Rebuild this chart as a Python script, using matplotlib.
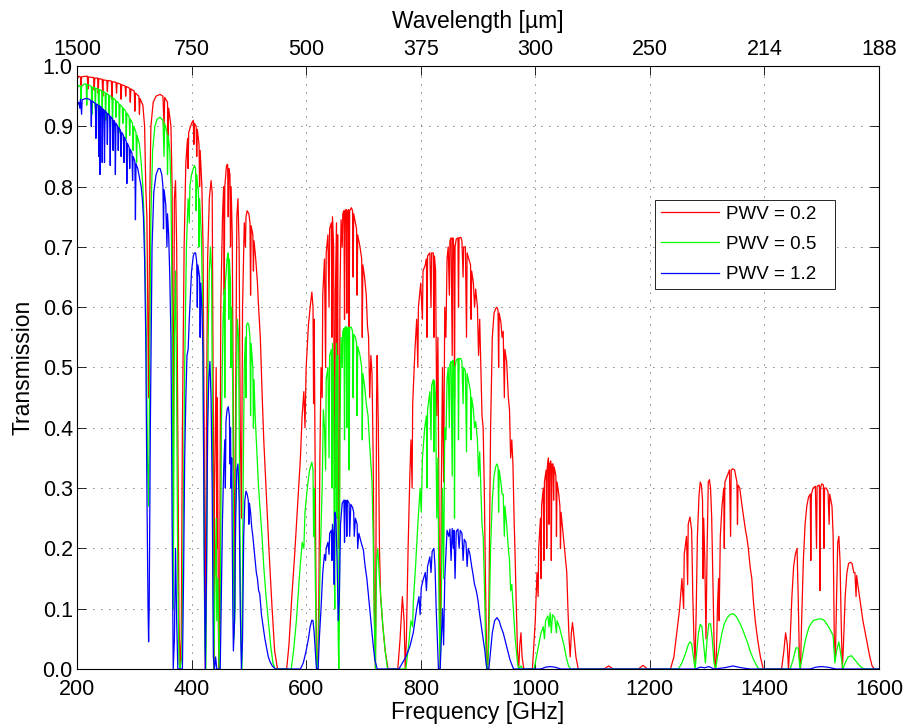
import matplotlib
matplotlib.use("Agg")
import matplotlib.pyplot as plt

# ==========================================
# DATA
# ==========================================

pwv_labels = ["PWV = 0.2", "PWV = 0.5", "PWV = 1.2"]
freq_ticks = [200, 400, 600, 800, 1000, 1200, 1400, 1600]
wavelength_labels = ["1500", "750", "500", "375", "300", "250", "214", "188"]
trans_ticks = [0.0, 0.1, 0.2, 0.3, 0.4, 0.5, 0.6, 0.7, 0.8, 0.9, 1.0]

# (frequency GHz, transmission)
pwv02 = [
    (200, .978), (203, .983), (206, .982), (207, .968), (208, .982), (214, .983), (218, .983), (219, .962),
    (220, .982), (226, .981), (229, .981), (230, .960), (231, .980), (236, .980), (237, .955), (238, .979),
    (244, .978), (245, .950), (246, .977), (252, .976), (253, .958), (254, .976), (260, .975), (261, .945),
    (262, .974), (268, .973), (269, .955), (270, .972), (276, .970), (277, .945), (278, .969), (284, .967),
    (285, .950), (286, .966), (292, .963), (293, .940), (294, .962), (300, .958), (301, .925), (302, .955),
    (308, .950), (309, .920), (310, .946), (315, .935), (318, .90), (320, .80), (322, .75), (325, .45),
    (327, .78), (329, .90), (333, .94), (338, .95), (345, .953), (350, .950), (352, .90), (353, .948),
    (358, .94), (359, .88), (360, .93), (364, .90), (366, .80), (368, .30), (370, .78), (372, .81),
    (374, .70), (376, .40), (378, .08), (380, .00), (382, .05), (384, .40), (387, .70), (390, .84),
    (393, .88), (394, .83), (395, .89), (400, .905), (403, .91), (404, .87), (405, .905), (408, .90),
    (409, .85), (410, .895), (413, .87), (414, .80), (415, .86), (418, .80), (420, .70), (422, .40),
    (424, .00), (426, .40), (428, .68), (431, .78), (434, .81), (436, .79), (438, .40), (439, .00),
    (440, .30), (443, .50), (444, .20), (445, .45), (447, .05), (448, .00), (449, .10), (451, .60),
    (454, .75), (456, .80), (457, .62), (458, .80), (461, .835), (463, .837), (464, .75), (465, .83),
    (467, .82), (468, .70), (469, .80), (471, .72), (473, .40), (475, .10), (477, .45), (479, .75),
    (481, .78), (483, .70), (485, .40), (487, .25), (489, .60), (492, .74), (494, .70), (495, .75),
    (497, .76), (500, .755), (502, .74), (503, .62), (504, .735), (507, .72), (508, .66), (509, .71),
    (512, .68), (515, .64), (517, .60), (520, .55), (523, .46), (526, .38), (530, .30), (535, .20),
    (540, .11), (545, .03), (550, .00), (566, .00), (570, .04), (575, .12), (580, .19), (585, .27),
    (590, .35), (593, .42), (596, .46), (598, .40), (600, .50), (604, .57), (607, .60), (610, .625),
    (612, .60), (613, .44), (614, .58), (616, .30), (618, .02), (620, .00), (622, .10), (624, .35),
    (626, .50), (628, .45), (629, .62), (632, .68), (634, .50), (635, .69), (638, .72), (640, .60),
    (641, .73), (644, .74), (645, .55), (646, .75), (648, .70), (649, .40), (650, .30), (651, .62),
    (653, .74), (654, .45), (655, .72), (656, .30), (657, .20), (658, .25), (659, .62), (661, .745),
    (663, .70), (664, .755), (666, .76), (667, .58), (668, .76), (670, .762), (671, .59), (672, .758),
    (674, .762), (675, .52), (676, .76), (679, .765), (681, .76), (682, .65), (683, .755), (686, .74),
    (688, .73), (689, .62), (690, .72), (694, .70), (697, .68), (698, .55), (699, .67), (702, .65),
    (705, .62), (707, .57), (709, .55), (711, .45), (713, .52), (715, .49), (717, .35), (719, .10),
    (721, .00), (723, .45), (724, .52), (726, .40), (728, .20), (730, .12), (734, .07), (738, .03),
    (743, .00), (760, .00), (764, .05), (768, .12), (771, .08), (773, .00), (775, .05), (778, .20),
    (781, .32), (783, .38), (785, .30), (786, .44), (790, .53), (793, .58), (795, .50), (796, .60),
    (800, .64), (803, .58), (804, .66), (808, .67), (810, .68), (811, .55), (812, .685), (816, .69),
    (818, .60), (819, .69), (822, .69), (823, .55), (824, .685), (826, .66), (828, .42), (830, .55),
    (832, .25), (834, .00), (836, .30), (838, .50), (840, .31), (842, .60), (844, .55), (846, .68),
    (848, .70), (850, .62), (851, .71), (853, .715), (855, .52), (856, .715), (858, .70), (859, .45),
    (860, .70), (862, .713), (865, .715), (866, .60), (867, .715), (870, .716), (872, .71), (874, .65),
    (875, .70), (878, .70), (880, .55), (881, .69), (884, .68), (887, .67), (888, .58), (889, .66),
    (892, .64), (894, .60), (896, .63), (899, .60), (901, .52), (903, .58), (905, .50), (907, .42),
    (909, .40), (911, .30), (913, .15), (915, .02), (917, .00), (919, .10), (922, .40), (925, .55),
    (928, .59), (931, .598), (933, .60), (935, .595), (936, .50), (937, .59), (940, .575), (942, .55),
    (944, .56), (946, .45), (947, .53), (950, .51), (953, .45), (955, .43), (957, .35), (959, .38),
    (961, .34), (963, .25), (965, .18), (967, .10), (969, .03), (971, .00), (973, .04), (975, .06),
    (977, .02), (980, .00), (995, .00), (1000, .08), (1003, .16), (1005, .12), (1006, .20), (1009, .25),
    (1010, .15), (1011, .27), (1014, .30), (1015, .18), (1016, .31), (1019, .33), (1020, .20), (1021, .335),
    (1023, .35), (1024, .24), (1025, .34), (1027, .345), (1028, .18), (1029, .34), (1031, .34), (1032, .28),
    (1033, .335), (1036, .32), (1037, .22), (1038, .31), (1041, .29), (1043, .27), (1044, .20), (1045, .26),
    (1048, .23), (1051, .20), (1053, .18), (1055, .16), (1057, .10), (1059, .05), (1061, .02), (1063, .06),
    (1065, .077), (1068, .05), (1071, .02), (1075, .00), (1120, .00), (1128, .005), (1136, .00), (1180, .00),
    (1188, .006), (1196, .00), (1236, .00), (1242, .02), (1247, .06), (1252, .10), (1256, .15), (1259, .10),
    (1260, .19), (1264, .22), (1266, .14), (1267, .24), (1270, .252), (1273, .23), (1275, .12), (1277, .05),
    (1279, .01), (1281, .10), (1283, .22), (1286, .29), (1288, .31), (1290, .305), (1292, .28), (1293, .15),
    (1294, .25), (1296, .18), (1298, .05), (1300, .20), (1302, .31), (1304, .314), (1306, .30), (1308, .25),
    (1310, .15), (1312, .05), (1314, .00), (1316, .02), (1318, .10), (1320, .15), (1321, .08), (1323, .22),
    (1326, .27), (1329, .30), (1330, .20), (1331, .31), (1335, .32), (1339, .33), (1341, .22), (1342, .33),
    (1345, .332), (1348, .33), (1350, .32), (1352, .31), (1353, .24), (1354, .305), (1357, .30), (1361, .27),
    (1364, .25), (1367, .23), (1369, .22), (1372, .20), (1375, .17), (1378, .15), (1381, .11), (1384, .08),
    (1388, .05), (1393, .02), (1398, .00), (1430, .00), (1434, .03), (1437, .06), (1440, .04), (1442, .00),
    (1445, .05), (1448, .12), (1451, .17), (1454, .19), (1457, .20), (1459, .12), (1461, .02), (1463, .00),
    (1465, .08), (1468, .18), (1471, .24), (1474, .27), (1477, .285), (1480, .29), (1481, .18), (1482, .29),
    (1485, .30), (1489, .303), (1491, .20), (1492, .303), (1496, .305), (1497, .13), (1498, .30), (1500, .307),
    (1503, .305), (1504, .20), (1505, .30), (1508, .30), (1511, .294), (1513, .24), (1514, .29), (1516, .28),
    (1518, .27), (1520, .22), (1522, .05), (1524, .02), (1526, .12), (1528, .21), (1530, .22), (1532, .18),
    (1534, .08), (1536, .00), (1538, .04), (1541, .12), (1544, .16), (1547, .175), (1550, .177), (1553, .175),
    (1556, .16), (1558, .16), (1560, .12), (1561, .155), (1563, .14), (1566, .12), (1569, .10), (1572, .08),
    (1576, .06), (1580, .04), (1584, .02), (1588, .005), (1592, .00), (1600, .00),
]

pwv05 = [
    (200, .962), (203, .968), (206, .966), (207, .945), (208, .966), (212, .970), (216, .970), (217, .935),
    (218, .969), (222, .968), (225, .966), (226, .92), (227, .965), (231, .964), (232, .93), (233, .963),
    (237, .962), (238, .905), (239, .961), (243, .959), (244, .93), (245, .958), (249, .956), (250, .91),
    (251, .955), (255, .952), (256, .92), (257, .951), (261, .948), (262, .90), (263, .947), (267, .944),
    (268, .915), (269, .942), (273, .938), (274, .89), (275, .936), (279, .932), (280, .905), (281, .930),
    (285, .925), (286, .88), (287, .922), (291, .916), (292, .885), (293, .912), (297, .905), (298, .86),
    (299, .900), (303, .890), (304, .84), (305, .885), (309, .87), (312, .84), (315, .80), (318, .72),
    (321, .55), (323, .35), (325, .27), (327, .50), (329, .75), (332, .86), (336, .90), (340, .912),
    (345, .915), (350, .91), (352, .85), (353, .905), (357, .89), (358, .82), (359, .885), (362, .86),
    (364, .80), (366, .60), (368, .10), (370, .55), (372, .66), (374, .45), (376, .15), (378, .01),
    (380, .00), (383, .02), (385, .20), (388, .50), (391, .70), (394, .78), (396, .74), (397, .80),
    (400, .82), (403, .83), (405, .835), (407, .83), (408, .76), (409, .82), (412, .79), (413, .70),
    (414, .78), (417, .72), (419, .62), (421, .35), (423, .05), (425, .00), (427, .25), (429, .55),
    (431, .66), (433, .70), (435, .66), (437, .30), (439, .00), (441, .15), (443, .25), (444, .08),
    (446, .15), (448, .00), (450, .05), (452, .40), (455, .58), (457, .63), (458, .45), (459, .64),
    (462, .68), (464, .69), (465, .58), (466, .68), (468, .64), (469, .50), (470, .60), (472, .45),
    (474, .05), (476, .10), (478, .45), (480, .58), (482, .55), (484, .30), (486, .05), (488, .00),
    (490, .30), (492, .50), (494, .55), (495, .45), (496, .57), (498, .574), (500, .57), (502, .55),
    (503, .42), (504, .54), (507, .50), (508, .40), (509, .48), (511, .42), (514, .36), (517, .30),
    (520, .26), (523, .22), (526, .17), (530, .12), (534, .08), (538, .04), (542, .01), (546, .00),
    (574, .00), (578, .03), (583, .08), (588, .15), (593, .21), (596, .20), (598, .26), (602, .30),
    (606, .33), (610, .343), (612, .33), (613, .22), (614, .30), (616, .15), (618, .01), (620, .00),
    (622, .05), (625, .20), (628, .30), (630, .43), (632, .40), (634, .33), (635, .48), (638, .50),
    (640, .35), (641, .52), (644, .53), (645, .30), (646, .54), (648, .48), (649, .18), (650, .10),
    (651, .40), (653, .54), (654, .25), (655, .52), (656, .05), (657, .00), (658, .08), (659, .40),
    (661, .55), (663, .50), (664, .56), (666, .565), (667, .38), (668, .567), (670, .568), (671, .40),
    (672, .565), (674, .567), (675, .33), (676, .566), (679, .567), (681, .56), (682, .45), (683, .555),
    (686, .55), (688, .54), (689, .42), (690, .535), (694, .52), (697, .50), (698, .38), (699, .49),
    (702, .47), (705, .44), (708, .42), (711, .37), (713, .34), (715, .31), (717, .22), (719, .08),
    (721, .00), (723, .18), (725, .20), (728, .15), (731, .11), (734, .07), (738, .03), (742, .00),
    (774, .00), (779, .04), (783, .08), (786, .07), (787, .11), (791, .17), (795, .24), (799, .30),
    (801, .26), (803, .35), (807, .40), (810, .42), (811, .30), (812, .43), (816, .46), (818, .38),
    (819, .47), (822, .48), (823, .36), (824, .478), (826, .45), (828, .25), (830, .35), (832, .10),
    (834, .00), (836, .12), (838, .30), (840, .15), (842, .40), (844, .38), (846, .48), (848, .50),
    (850, .40), (851, .505), (853, .51), (855, .32), (856, .512), (858, .50), (859, .25), (860, .50),
    (862, .512), (865, .515), (866, .38), (867, .515), (870, .515), (872, .51), (874, .44), (875, .50),
    (878, .495), (880, .36), (881, .49), (884, .475), (887, .46), (888, .38), (889, .45), (892, .43),
    (894, .40), (896, .41), (899, .38), (901, .32), (903, .36), (905, .30), (907, .24), (909, .22),
    (911, .15), (913, .06), (915, .00), (917, .00), (919, .05), (922, .20), (925, .28), (928, .32),
    (931, .336), (933, .34), (935, .335), (936, .26), (937, .33), (940, .31), (942, .29), (944, .29),
    (946, .22), (947, .27), (950, .24), (953, .20), (955, .18), (957, .13), (959, .14), (961, .11),
    (963, .08), (965, .05), (967, .03), (969, .01), (971, .00), (975, .005), (978, .00), (998, .00),
    (1002, .02), (1006, .04), (1010, .06), (1014, .07), (1016, .05), (1018, .08), (1022, .088), (1024, .07),
    (1026, .093), (1028, .06), (1030, .09), (1034, .085), (1037, .06), (1038, .08), (1042, .07), (1046, .055),
    (1050, .04), (1054, .02), (1058, .005), (1062, .00), (1250, .00), (1256, .01), (1262, .025), (1267, .04),
    (1270, .045), (1273, .042), (1276, .02), (1279, .00), (1282, .03), (1285, .06), (1288, .074), (1291, .07),
    (1294, .04), (1297, .01), (1300, .05), (1303, .075), (1306, .075), (1309, .05), (1312, .01), (1315, .00),
    (1318, .02), (1322, .04), (1326, .06), (1330, .075), (1335, .085), (1340, .09), (1345, .092), (1350, .088),
    (1355, .08), (1360, .07), (1365, .058), (1370, .045), (1375, .03), (1380, .018), (1385, .008), (1390, .00),
    (1445, .00), (1450, .015), (1455, .035), (1459, .035), (1462, .00), (1466, .02), (1472, .05), (1478, .07),
    (1485, .08), (1490, .082), (1495, .083), (1500, .083), (1505, .08), (1510, .073), (1515, .065), (1520, .055),
    (1523, .01), (1526, .03), (1530, .045), (1534, .02), (1537, .00), (1541, .01), (1546, .02), (1552, .022),
    (1558, .015), (1564, .008), (1570, .002), (1576, .00), (1600, .00),
]

pwv12 = [
    (200, .935), (203, .94), (205, .93), (206, .945), (208, .92), (209, .944), (212, .945), (215, .946),
    (218, .946), (221, .945), (224, .943), (225, .90), (226, .942), (229, .94), (232, .938), (233, .88),
    (234, .937), (237, .935), (238, .85), (239, .934), (240, .82), (241, .933), (243, .93), (244, .84),
    (245, .929), (247, .927), (248, .84), (249, .926), (252, .922), (253, .87), (254, .921), (257, .918),
    (258, .835), (259, .916), (262, .912), (263, .86), (264, .91), (266, .907), (267, .82), (268, .905),
    (271, .90), (272, .86), (273, .898), (276, .893), (277, .85), (278, .89), (281, .885), (282, .84),
    (283, .882), (286, .875), (287, .805), (288, .872), (291, .865), (292, .83), (293, .862), (296, .855),
    (297, .81), (298, .85), (301, .842), (302, .745), (303, .838), (306, .83), (309, .815), (312, .80),
    (314, .78), (316, .75), (318, .68), (320, .55), (322, .30), (324, .10), (325, .045), (326, .10),
    (328, .40), (331, .70), (334, .79), (338, .82), (342, .83), (345, .83), (348, .82), (350, .80),
    (351, .73), (352, .795), (355, .77), (357, .70), (358, .755), (360, .72), (362, .65), (364, .55),
    (366, .25), (368, .00), (370, .05), (372, .20), (374, .08), (376, .00), (380, .00), (384, .00),
    (386, .15), (388, .35), (390, .45), (392, .52), (394, .53), (396, .58), (398, .62), (400, .66),
    (403, .685), (405, .69), (407, .69), (409, .675), (410, .60), (411, .67), (414, .65), (415, .55),
    (416, .64), (418, .60), (420, .52), (422, .20), (424, .00), (426, .15), (428, .40), (430, .48),
    (432, .51), (434, .45), (436, .30), (438, .02), (440, .00), (442, .02), (444, .00), (450, .00),
    (452, .12), (454, .25), (456, .33), (458, .38), (459, .30), (460, .41), (462, .43), (464, .435),
    (466, .42), (467, .34), (468, .40), (469, .30), (470, .35), (472, .10), (473, .03), (475, .08),
    (477, .25), (479, .33), (481, .34), (483, .28), (485, .10), (487, .00), (489, .05), (491, .22),
    (493, .28), (495, .295), (497, .29), (499, .28), (500, .24), (501, .275), (503, .26), (505, .235),
    (507, .22), (509, .20), (511, .18), (513, .16), (515, .15), (517, .13), (519, .125), (522, .09),
    (525, .07), (528, .05), (531, .035), (534, .02), (537, .012), (541, .005), (546, .00), (590, .00),
    (595, .01), (600, .03), (604, .05), (607, .07), (610, .081), (612, .08), (614, .06), (616, .03),
    (618, .00), (621, .00), (623, .05), (626, .10), (629, .16), (632, .19), (634, .18), (635, .20),
    (638, .21), (640, .19), (641, .225), (644, .23), (645, .18), (646, .24), (648, .22), (649, .14),
    (650, .26), (652, .25), (654, .18), (656, .08), (658, .12), (660, .24), (663, .275), (666, .28),
    (667, .21), (668, .28), (670, .279), (671, .22), (672, .28), (675, .275), (676, .22), (678, .273),
    (681, .268), (683, .26), (684, .22), (686, .25), (689, .24), (690, .20), (692, .225), (696, .21),
    (700, .197), (703, .17), (706, .15), (708, .13), (711, .10), (714, .07), (717, .04), (720, .015),
    (724, .00), (762, .00), (768, .01), (774, .02), (781, .037), (787, .06), (793, .10), (797, .12),
    (799, .09), (801, .135), (804, .147), (808, .16), (810, .13), (812, .17), (816, .186), (818, .16),
    (820, .195), (823, .20), (825, .17), (827, .10), (829, .05), (831, .00), (834, .00), (836, .05),
    (838, .10), (840, .04), (842, .15), (844, .19), (846, .23), (849, .22), (851, .232), (853, .18),
    (855, .233), (857, .20), (858, .23), (860, .15), (862, .228), (865, .232), (867, .20), (869, .23),
    (872, .225), (874, .18), (876, .215), (879, .21), (881, .17), (883, .20), (886, .19), (889, .17),
    (891, .159), (894, .14), (897, .13), (900, .114), (903, .09), (906, .07), (909, .05), (912, .03),
    (914, .01), (916, .00), (919, .00), (922, .03), (925, .06), (929, .08), (933, .085), (937, .08),
    (940, .07), (944, .06), (948, .045), (952, .03), (956, .015), (960, .005), (962, .00), (1010, .00),
    (1018, .003), (1026, .004), (1034, .003), (1045, .00), (1280, .00), (1288, .003), (1296, .002), (1303, .004),
    (1312, .00), (1330, .002), (1345, .005), (1360, .002), (1375, .00), (1480, .00), (1490, .003), (1500, .004),
    (1510, .003), (1525, .00), (1600, .00),
]

COLORS = ["#ff0000", "#00ff00", "#0000ff"]
TICK_FS = 15.5
LABEL_FS = 16.5
LEGEND_FS = 13.5

plt.rcParams["font.family"] = ["Liberation Sans", "DejaVu Sans"]

# ==========================================
# PLOT
# ==========================================

fig = plt.figure(figsize=(9.07, 7.27), dpi=100)
ax = fig.add_axes([0.0849, 0.0798, 0.8842, 0.8294])

for series, color, label in zip([pwv02, pwv05, pwv12], COLORS, pwv_labels):
    f, t = zip(*series)
    ax.plot(f, t, color=color, linewidth=0.9, label=label)

grid_style = (0, (1, 8.6))

ax.set_xlim(200, 1600)
ax.set_ylim(0, 1)
ax.set_xticks(freq_ticks)
ax.set_yticks(trans_ticks)
ax.set_yticklabels([f"{v:.1f}" for v in trans_ticks])
ax.tick_params(direction="in", right=True, top=False, length=6.5, width=0.6,
               labelsize=TICK_FS)
ax.tick_params(axis="x", pad=7.5)
ax.tick_params(axis="y", pad=3)
ax.grid(True, color="black", linestyle=grid_style, linewidth=0.6)
ax.set_xlabel("Frequency [GHz]", fontsize=LABEL_FS, labelpad=0.5)
ax.set_ylabel("Transmission", fontsize=LABEL_FS, labelpad=6)
for s in ax.spines.values():
    s.set_linewidth(0.6)

ax2 = ax.twiny()
ax2.set_xlim(200, 1600)
ax2.set_xticks(freq_ticks)
ax2.set_xticklabels(wavelength_labels)
ax2.tick_params(direction="in", length=6.5, width=0.6, labelsize=TICK_FS, pad=4.5)
ax2.set_xlabel("Wavelength [\u00b5m]", fontsize=LABEL_FS, labelpad=8)

# legend box spans the same area as in the reference
leg = ax.legend(loc="upper left", bbox_to_anchor=(0.7207, 0.6254, 0.2244, 0.1524),
                mode="expand", fancybox=False, framealpha=1, edgecolor="black",
                handlelength=3.1, borderpad=0.3, labelspacing=0.7, handletextpad=0.37,
                fontsize=LEGEND_FS, borderaxespad=0)
leg.get_frame().set_linewidth(0.6)

fig.savefig("out.png", dpi=100)
